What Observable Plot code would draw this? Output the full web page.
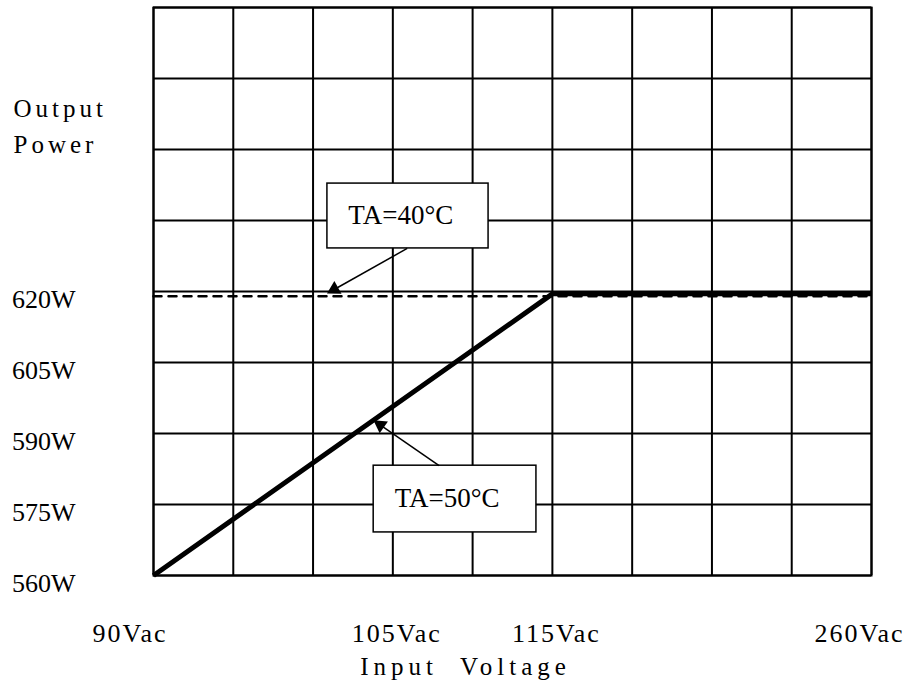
<!DOCTYPE html>
<html>
<head>
<meta charset="utf-8">
<script src="https://cdn.jsdelivr.net/npm/d3@7"></script>
<script src="https://cdn.jsdelivr.net/npm/@observablehq/plot@0.6"></script>
<style>
  body { margin: 0; background: #fff; }
</style>
</head>
<body>
<div id="chart"></div>
<script>
// ---- data ----
const xTickValues = [90, 105, 115, 260];
const xTickLabels = ["90Vac", "105Vac", "115Vac", "260Vac"];
const yTickValues = [560, 575, 590, 605, 620];
const yTickLabels = ["560W", "575W", "590W", "605W", "620W"];

// TA=40°C (dashed)
const voltage40 = [90, 260];
const power40 = [619, 619];
// TA=50°C (thick solid)
const voltage50 = [90, 115, 260];
const power50 = [560, 619.5, 619.5];

// annotations (data units: Vac / W)
const annoLabels = ["TA=40°C", "TA=50°C"];
const annoTextX = [105.5, 108.4];
const annoTextY = [636.1, 576.3];
const annoBoxX1 = [100.9, 103.8];
const annoBoxX2 = [111.0, 114.0];
const annoBoxY1 = [629.1, 569.1];
const annoBoxY2 = [642.8, 583.2];
const arrowFromX = [105.9, 107.9];
const arrowFromY = [629.1, 583.2];
const arrowToX = [101.1, 104.0];
const arrowToY = [620.0, 592.3];

// ---- layout ----
const W = 908, H = 690;
const ml = 153, mr = 37, mt = 7, mb = 115;
const nCols = 9;
const cw = (W - ml - mr) / nCols;
const yDomain = [560, 680];
// grid columns: 90→105 = 3 cols, 105→115 = 2 cols, 115→260 = 4 cols
const xRange = [ml, ml + 3 * cw, ml + 5 * cw, W - mr];
const xHelper = d3.scaleLinear().domain(xTickValues).range(xRange);
const yHelper = d3.scaleLinear().domain(yDomain).range([H - mb, mt]);
const gridX = d3.range(nCols + 1).map(i => xHelper.invert(ml + i * cw));
const gridY = d3.range(560, 681, 15);
const idx = annoLabels.map((_, i) => i);
const font = "'Liberation Serif', 'Times New Roman', serif";

// arrowhead geometry (filled triangles oriented along each arrow)
const headR = 5.4;
const headTip = 2 * Math.sqrt(headR * headR * Math.PI / (3 * Math.sqrt(3)));
const heads = idx.map(i => {
  const x1 = xHelper(arrowFromX[i]), y1 = yHelper(arrowFromY[i]);
  const x2 = xHelper(arrowToX[i]), y2 = yHelper(arrowToY[i]);
  const len = Math.hypot(x2 - x1, y2 - y1);
  const ux = (x2 - x1) / len, uy = (y2 - y1) / len;
  return {
    x: xHelper.invert(x2 - ux * headTip * 0.5),
    y: yHelper.invert(y2 - uy * headTip * 0.5),
    angle: Math.atan2(ux, -uy) * 180 / Math.PI
  };
});

const chart = Plot.plot({
  width: W,
  height: H,
  marginLeft: ml,
  marginRight: mr,
  marginTop: mt,
  marginBottom: mb,
  style: { fontFamily: font, background: "#fff", color: "#000" },
  x: { type: "linear", domain: xTickValues, range: xRange, axis: null },
  y: { domain: yDomain, axis: null },
  marks: [
    Plot.ruleX(gridX, { stroke: "#000", strokeWidth: 2 }),
    Plot.ruleY(gridY, { stroke: "#000", strokeWidth: 2 }),
    Plot.frame({ stroke: "#000", strokeWidth: 2 }),
    Plot.line(voltage40.map((v, i) => i), {
      x: i => voltage40[i], y: i => power40[i],
      stroke: "#000", strokeWidth: 2.5, strokeDasharray: "8,7"
    }),
    Plot.line(voltage50.map((v, i) => i), {
      x: i => voltage50[i], y: i => power50[i],
      stroke: "#000", strokeWidth: 5, strokeLinejoin: "miter", strokeLinecap: "butt"
    }),
    Plot.rect(idx, {
      x1: i => annoBoxX1[i], x2: i => annoBoxX2[i],
      y1: i => annoBoxY1[i], y2: i => annoBoxY2[i],
      fill: "#fff", stroke: "#000", strokeWidth: 1.5
    }),
    Plot.text(idx, {
      x: i => annoTextX[i], y: i => annoTextY[i], text: i => annoLabels[i],
      fontSize: 27, fill: "#000", lineAnchor: "middle"
    }),
    Plot.link(idx, {
      x1: i => arrowFromX[i], y1: i => arrowFromY[i],
      x2: i => arrowToX[i], y2: i => arrowToY[i],
      stroke: "#000", strokeWidth: 1.5
    }),
    Plot.dot(heads, {
      x: "x", y: "y", rotate: "angle", symbol: "triangle", r: headR,
      fill: "#000", stroke: "none"
    }),
    // y tick labels
    Plot.text(yTickValues, {
      y: d => d, text: (d, i) => yTickLabels[i], frameAnchor: "left",
      textAnchor: "end", dx: -78, dy: 8, fontSize: 26, fill: "#000", lineAnchor: "middle"
    }),
    // x tick labels
    Plot.text([0], {
      x: i => xTickValues[i], text: i => xTickLabels[i], frameAnchor: "bottom",
      textAnchor: "start", dx: -61, dy: 66, fontSize: 26, fill: "#000",
      lineAnchor: "bottom"
    }),
    Plot.text([1, 2], {
      x: i => xTickValues[i], text: i => xTickLabels[i], frameAnchor: "bottom",
      textAnchor: "middle", dx: 4, dy: 66, fontSize: 26, fill: "#000",
      lineAnchor: "bottom"
    }),
    Plot.text([3], {
      x: i => xTickValues[i], text: i => xTickLabels[i], frameAnchor: "bottom",
      textAnchor: "end", dx: 33, dy: 66, fontSize: 26, fill: "#000",
      lineAnchor: "bottom"
    }),
    // axis titles
    Plot.text(["Output\nPower"], {
      text: d => d, frameAnchor: "top-left", textAnchor: "start",
      dx: -140, dy: 84, fontSize: 25, lineHeight: 1.45, lineAnchor: "top",
      fill: "#000"
    }),
    Plot.text(["Input  Voltage"], {
      text: d => d, frameAnchor: "bottom", textAnchor: "middle",
      dx: -47, dy: 82, fontSize: 25, lineAnchor: "top",
      fill: "#000"
    })
  ]
});

// letter spacing for the spaced-out labels
chart.querySelectorAll("text").forEach(t => {
  const s = t.textContent;
  if (s.startsWith("Output")) t.setAttribute("letter-spacing", "4");
  else if (s.startsWith("Input")) t.setAttribute("letter-spacing", "5");
  else if (s.endsWith("Vac")) t.setAttribute("letter-spacing", "2");
});

document.getElementById("chart").appendChild(chart);
</script>
</body>
</html>
